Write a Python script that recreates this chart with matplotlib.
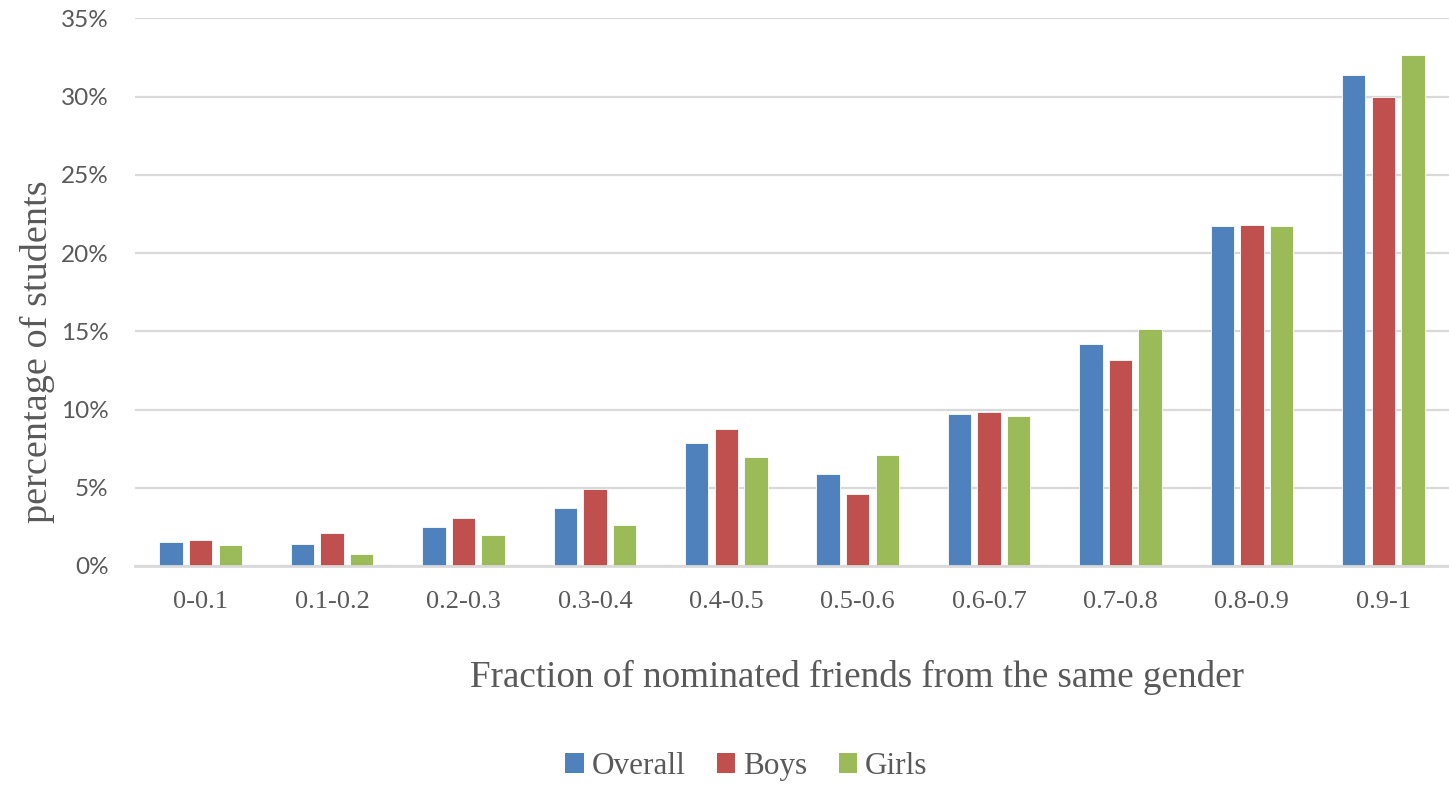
import numpy as np
import matplotlib
matplotlib.use("Agg")
import matplotlib.pyplot as plt
from matplotlib.ticker import PercentFormatter
from matplotlib.patches import Patch

# Share of students by fraction of same-gender nominated friends (percent)
categories = ["0-0.1", "0.1-0.2", "0.2-0.3", "0.3-0.4", "0.4-0.5",
              "0.5-0.6", "0.6-0.7", "0.7-0.8", "0.8-0.9", "0.9-1"]
overall = [1.52, 1.41, 2.52, 3.73, 7.84, 5.85, 9.71, 14.19, 21.75, 31.37]
boys = [1.68, 2.09, 3.09, 4.91, 8.75, 4.57, 9.82, 13.15, 21.79, 30.00]
girls = [1.34, 0.79, 1.98, 2.62, 6.96, 7.07, 9.56, 15.15, 21.75, 32.65]
series_names = ["Overall", "Boys", "Girls"]
y_ticks = [0, 5, 10, 15, 20, 25, 30, 35]

colors = ["#4F81BD", "#C0504D", "#9BBB59"]
text_gray = "#595959"
grid_gray = "#D9D9D9"
serif = "Liberation Serif"

fig = plt.figure(figsize=(14.49, 7.85), dpi=100)
ax = fig.add_axes([0.0932, 0.2790, 0.9068, 0.6977])

x = np.arange(len(categories))
bar_w = 0.178
step = 0.225
for i, (vals, c) in enumerate(zip([overall, boys, girls], colors)):
    ax.bar(x + (i - 1) * step, vals, width=bar_w, color=c,
           edgecolor="white", linewidth=0.6, zorder=3)

ax.set_xlim(-0.5, len(categories) - 0.5)
ax.set_ylim(0, 35)
ax.set_yticks(y_ticks)
ax.yaxis.set_major_formatter(PercentFormatter(decimals=0))
ax.grid(axis="y", color=grid_gray, linewidth=1.6, zorder=0)
ax.set_axisbelow(True)
for side in ["top", "right", "left"]:
    ax.spines[side].set_visible(False)
ax.spines["bottom"].set_color(grid_gray)
ax.spines["bottom"].set_linewidth(2.0)
ax.spines["bottom"].set_zorder(4)

ax.set_xticks(x)
ax.set_xticklabels(categories, fontfamily=serif, fontsize=19, color=text_gray)
ax.tick_params(axis="x", length=0, pad=18)
ax.tick_params(axis="y", length=0, pad=19, labelsize=17.5, labelcolor=text_gray)
for lbl in ax.get_yticklabels():
    lbl.set_fontfamily("Lato")

fig.text(0.0255, 0.5516, "percentage of students", rotation=90,
         ha="center", va="center", fontfamily=serif, fontsize=27.5, color=text_gray)
fig.text(0.5915, 0.1376, "Fraction of nominated friends from the same gender",
         ha="center", va="center", fontfamily=serif, fontsize=26.7, color=text_gray)

handles = [Patch(facecolor=c, edgecolor="none") for c in colors]
leg = fig.legend(handles, series_names, loc="center", bbox_to_anchor=(0.515, 0.024),
                 ncol=3, frameon=False, handlelength=0.6, handleheight=0.6,
                 handletextpad=0.25, columnspacing=1.0,
                 prop={"family": serif, "size": 22.5})
for t in leg.get_texts():
    t.set_color(text_gray)

fig.savefig("out.png", dpi=100, facecolor="white")
